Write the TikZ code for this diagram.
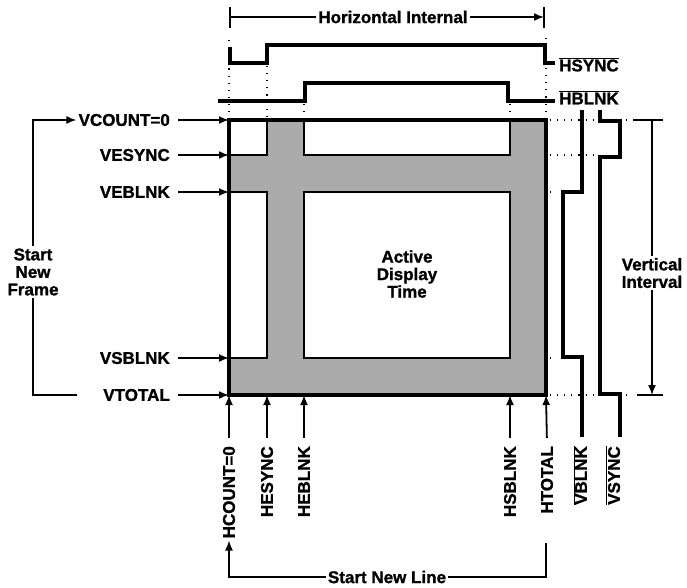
\documentclass[tikz,border=0pt]{standalone}
\usepackage{fontspec}
\setmainfont{Liberation Sans}[BoldFeatures={FakeBold=1.2}]
\usetikzlibrary{arrows.meta}
\begin{document}
\begin{tikzpicture}[x=1pt,y=-1pt,
  lbl/.style={font=\fontsize{17}{17.5}\selectfont\bfseries, inner sep=2pt},
  tip/.style={-{Latex[length=10pt,width=8pt]}},
  arr/.style={line width=1.8pt, tip},
  wave/.style={line width=3.4pt, line join=miter},
  guide/.style={line width=1.1pt, dash pattern=on 1.1pt off 6pt},
  thinln/.style={line width=1.5pt},
  cell/.style={fill=white, draw=black, line width=2pt}]
\useasboundingbox (0,0) rectangle (687,587);

% grid corner coordinates
\coordinate (g00) at (229,120);
\coordinate (g01) at (229,155);
\coordinate (g02) at (229,192);
\coordinate (g03) at (229,358);
\coordinate (g04) at (229,395);
\coordinate (h1) at (267,395);
\coordinate (h2) at (304,395);
\coordinate (h3) at (510,395);
\coordinate (h4) at (546,395);

% shaded field and white cells
\fill[black!33] (229,120) rectangle (546,395);
\path[cell] (229,120) rectangle (267,155);
\path[cell] (304,120) rectangle (510,155);
\path[cell] (229,192) rectangle (267,358);
\path[cell] (304,192) rectangle (510,358);
\draw[line width=3.6pt] (229,120) rectangle (546,395);

\node[lbl, align=center] (adt) at (407,274) {Active\\Display\\Time};

% guide dots
\draw[guide] (229,40) -- (229,116);
\draw[guide] (267,66) -- (267,116);
\draw[guide] (304,104) -- (304,116);
\draw[guide] (510,104) -- (510,116);
\draw[guide] (546,38) -- (546,44);
\draw[guide] (546,68) -- (546,116);
\draw[guide] (550,120) -- (595,120);
\draw[guide] (550,155) -- (595,155);
\draw[guide] (550,192) -- (553,192);
\draw[guide] (550,358) -- (553,358);
\draw[guide] (550,395) -- (595,395);
\draw[guide] (626,120) -- (628,120);
\draw[guide] (626,395) -- (628,395);

% Horizontal interval
\node[lbl] (hi) at (393,17) {Horizontal Internal};
\coordinate (hiL) at (230,17);
\coordinate (hiR) at (544,17);
\draw[thinln] (hi.west) -- (hiL);
\draw[thinln, tip] (hi.east) -- (hiR);
\draw[line width=1.6pt] (230,7) -- (230,28);
\draw[line width=1.6pt] (544,7) -- (544,28);

% horizontal waveforms
\node[lbl, anchor=west] (hs) at (557,64.5) {$\overline{\hbox{HSYNC}}$};
\node[lbl, anchor=west] (hb) at (557,97.5) {$\overline{\hbox{HBLNK}}$};
\draw[wave] (230,47) -- (230,63) -- (267,63) -- (267,45) -- (545,45) -- (545,63) -- (555,63);
\draw[wave] (218,101) -- (305,101) -- (305,83) -- (508,83) -- (508,101) -- (555,101);

% vertical waveforms
\draw[wave] (582,110) -- (582,192) -- (563,192) -- (563,357) -- (582,357) -- (582,437);
\draw[wave] (600,110) -- (600,121) -- (620,121) -- (620,157) -- (600,157) -- (600,394) -- (620,394) -- (620,437);

% left labels
\node[lbl, anchor=east] (vc) at (172,120) {VCOUNT=0};
\node[lbl, anchor=east] (ves) at (172,155) {VESYNC};
\node[lbl, anchor=east] (veb) at (172,192) {VEBLNK};
\node[lbl, anchor=east] (vsb) at (172,358) {VSBLNK};
\node[lbl, anchor=east] (vt) at (172,395) {VTOTAL};
\draw[arr, shorten <=6pt] (vc.east) -- (g00);
\draw[arr, shorten <=6pt] (ves.east) -- (g01);
\draw[arr, shorten <=6pt] (veb.east) -- (g02);
\draw[arr, shorten <=6pt] (vsb.east) -- (g03);
\draw[arr, shorten <=6pt] (vt.east) -- (g04);

% start new frame
\node[lbl, align=center] (snf) at (33,272) {Start\\New\\Frame};
\coordinate (vtL) at (77,395);
\draw[thinln] (vtL) -| (snf.south);
\draw[thinln, tip] (snf.north) |- (vc.west);

% bottom labels
\node[lbl, rotate=90, anchor=east] (hc) at (229,444) {HCOUNT=0};
\node[lbl, rotate=90, anchor=east] (hes) at (267,444) {HESYNC};
\node[lbl, rotate=90, anchor=east] (heb) at (304,444) {HEBLNK};
\node[lbl, rotate=90, anchor=east] (hsb) at (510,444) {HSBLNK};
\node[lbl, rotate=90, anchor=east] (ht) at (547,444) {HTOTAL};
\node[lbl, rotate=90, anchor=east] (vbl) at (580,444) {$\overline{\hbox{VBLNK}}$};
\node[lbl, rotate=90, anchor=east] (vsy) at (613,444) {$\overline{\hbox{VSYNC}}$};
\draw[arr, shorten <=6pt] (hc.east) -- (g04);
\draw[arr, shorten <=6pt] (hes.east) -- (h1);
\draw[arr, shorten <=6pt] (heb.east) -- (h2);
\draw[arr, shorten <=6pt] (hsb.east) -- (h3);
\draw[arr, shorten <=6pt] (ht.east) -- (h4);

% start new line
\node[lbl] (snl) at (387,577) {Start New Line};
\coordinate (htB) at (546,543);
\draw[thinln, tip] (snl.west) -| (hc.west);
\draw[thinln] (snl.east) -| (htB);

% vertical interval
\draw[thinln] (633,120) -- (663,120);
\draw[thinln] (637,395) -- (663,395);
\node[lbl, align=center, fill=white] (vi) at (652,273) {Vertical\\Interval};
\coordinate (viT) at (652,120);
\coordinate (viB) at (652,395);
\draw[thinln] (vi.north) -- (viT);
\draw[thinln, tip] (vi.south) -- (viB);
\end{tikzpicture}
\end{document}
